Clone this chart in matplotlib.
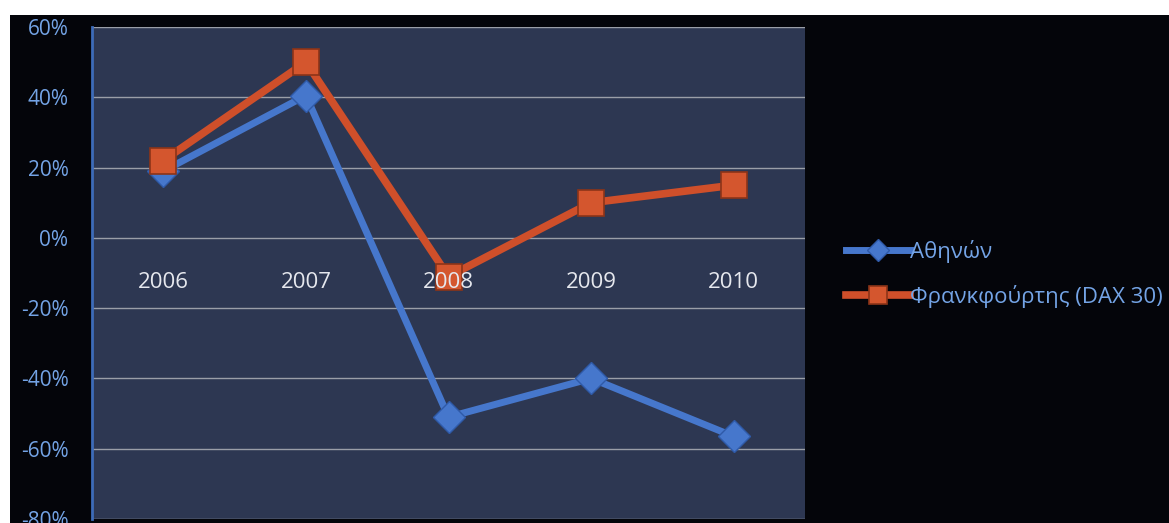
import matplotlib.pyplot as plt
from matplotlib.patches import Rectangle
from matplotlib.ticker import FuncFormatter

plt.rcParams['font.family'] = ['Open Sans', 'DejaVu Sans']

years = ['2006', '2007', '2008', '2009', '2010']
athens = [19, 40.5, -51, -40, -56.5]
frankfurt = [22, 50, -11, 10, 15]
yticks = [-80, -60, -40, -20, 0, 20, 40, 60]

W, H = 1169, 523
fig = plt.figure(figsize=(W / 100, H / 100), dpi=100)
fig.patch.set_facecolor('white')

# black chart frame
fig.patches.append(Rectangle((10 / W, 0), 1 - 10 / W, 1 - 15 / H,
                             transform=fig.transFigure, facecolor='#04050a',
                             edgecolor='none', zorder=-10))

ax = fig.add_axes([92 / W, 4 / H, (805 - 92) / W, (519 - 27) / H])
ax.set_facecolor('#2d3752')
x = list(range(len(years)))

ax.set_xlim(-0.5, len(years) - 0.5)
ax.set_ylim(-80, 60)
ax.set_yticks(yticks)
ax.yaxis.set_major_formatter(FuncFormatter(lambda v, p: f'{v:.0f}%'))
ax.tick_params(axis='y', length=0, pad=17, labelsize=15, labelcolor='#74a4e6')
ax.tick_params(axis='x', length=0, labelbottom=False)
ax.grid(axis='y', color='#9a9ea8', lw=1)
ax.set_axisbelow(True)
for s in ['top', 'right', 'bottom']:
    ax.spines[s].set_visible(False)
ax.spines['left'].set_color('#3d6bb8')
ax.spines['left'].set_linewidth(2)

ax.plot(x, athens, color='#4677cc', lw=5, marker='D', markersize=16,
        markerfacecolor='#4677cc', markeredgecolor='#2f5aa8', markeredgewidth=1,
        label='Αθηνών', zorder=3, solid_joinstyle='round')
ax.plot(x, frankfurt, color='#cf4f2a', lw=5.5, marker='s', markersize=19,
        markerfacecolor='#d4562e', markeredgecolor='#8c3418', markeredgewidth=1.2,
        label='Φρανκφούρτης (DAX 30)', zorder=4, solid_joinstyle='round')

for i, yr in enumerate(years):
    ax.annotate(yr, (i, 0), xytext=(0, -32), textcoords='offset points',
                ha='center', va='center', fontsize=16, color='#e6e8ee', zorder=5)

leg = fig.legend(loc='upper left', bbox_to_anchor=(826 / W, 1 - 220 / H),
                 frameon=False, fontsize=16, handlelength=2.9, handletextpad=0.0,
                 labelspacing=1.0, labelcolor='#74a4e6', markerscale=0.7)

fig.savefig('out.png', dpi=100)
